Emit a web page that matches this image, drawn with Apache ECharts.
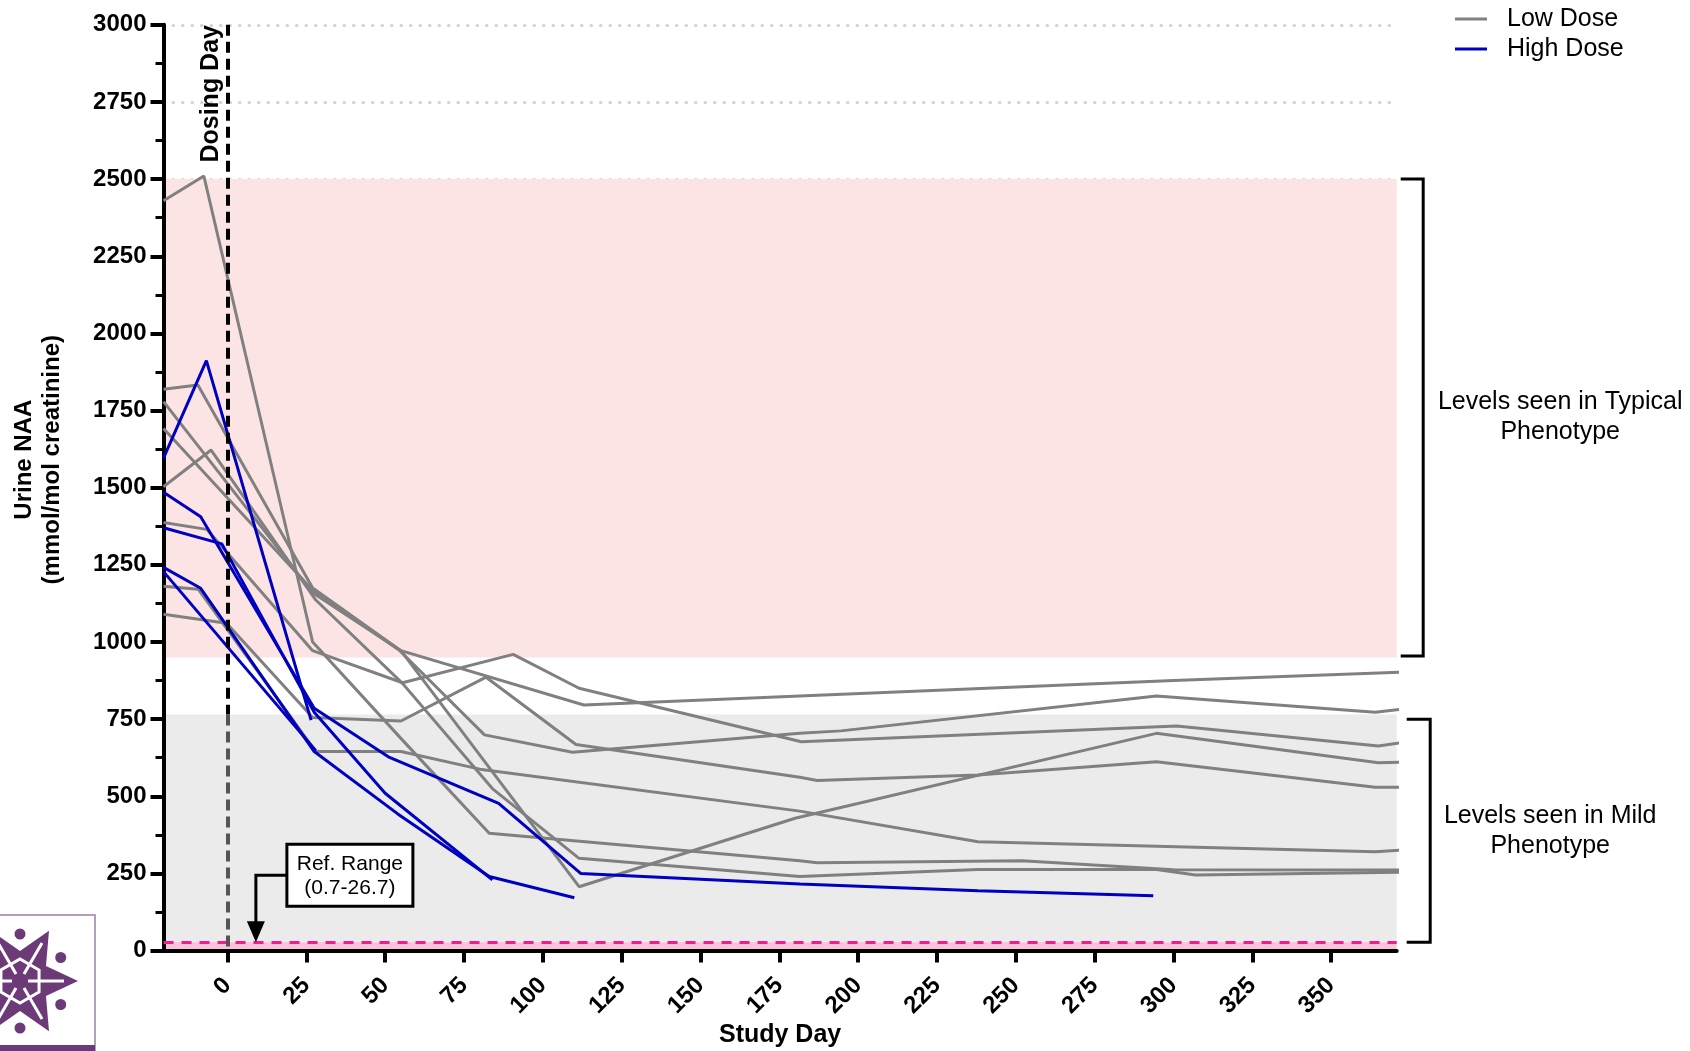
<!DOCTYPE html>
<html>
<head>
<meta charset="utf-8">
<script src="https://cdn.jsdelivr.net/npm/echarts@6/dist/echarts.min.js"></script>
<style>
html,body{margin:0;padding:0;background:#fff;}
#c{width:1690px;height:1051px;}
</style>
</head>
<body>
<div id="c"></div>
<script>
// ---------------- DATA ----------------
const xTickValues = [0, 25, 50, 75, 100, 125, 150, 175, 200, 225, 250, 275, 300, 325, 350];
const xRange = [-20.3, 370.8];
const yRange = [0, 3000];
const yInterval = 250;
const dosingDay = 0;
const typicalBand = [950, 2500];
const mildBand = [0, 765];
const refRange = [0.7, 26.7];
const typicalBracket = [955, 2500];
const mildBracket = [26.7, 750];
const refArrowDay = 9;

// Low Dose subjects: [study day, urine NAA]
const lowDose1 = [[-20.3,2430],[-7.5,2510],[27,1000],[55.5,682],[83,380],[181.5,291],[187,285],[252,291],[300,262],[375,261]];
const lowDose2 = [[-20.3,1819],[-9.4,1833],[27,1175],[55,972],[113,796],[181.5,825],[300,875],[375,903]];
const lowDose3 = [[-20.3,1779],[27,1160],[55,972],[111.5,207],[180,429],[294.6,704],[365,609],[375,611]];
const lowDose4 = [[-20.3,1692],[27,1168],[54.4,974],[81.5,699],[109.4,643],[181.5,704],[194.5,712],[294.6,825],[364,772],[375,785]];
const lowDose5 = [[-20.3,1503],[-5.2,1622],[28,1136],[55.5,866],[84,525],[111.5,299],[181.5,240],[238,263],[294.6,263],[307,245],[375,254]];
const lowDose6 = [[-20.3,1387],[-6.6,1365],[27,972],[55.5,868],[90.6,960],[111.5,850],[182,677],[301,728],[365,663],[375,678]];
const lowDose7 = [[-20.3,1181],[-9.3,1171],[28,645],[55,645],[80,588],[181.5,452],[238,353],[364,320],[375,328]];
const lowDose8 = [[-20.3,1090],[-0.3,1061],[27,755],[55,744],[82,886],[110.5,668],[181.5,562],[187,551],[238,569],[294.6,612],[364,529],[375,529]];

// High Dose subjects
const highDose1 = [[-20.3,1596],[-6.7,1912],[26.5,747]];
const highDose2 = [[-20.3,1485],[-8.5,1406],[27.5,785],[51,628],[86,477],[112,250],[181.5,216],[238,194],[293.6,178]];
const highDose3 = [[-20.3,1370],[-1.8,1318],[27.5,772],[50,510],[84,229]];
const highDose4 = [[-20.3,1242],[-8.5,1174],[27.5,645],[54,443],[83,240],[110,171]];
const highDose5 = [[-20.3,1228],[28,648]];

const lowDoseSeries = [lowDose1, lowDose2, lowDose3, lowDose4, lowDose5, lowDose6, lowDose7, lowDose8];
const highDoseSeries = [highDose1, highDose2, highDose3, highDose4, highDose5];

// ---------------- STYLE ----------------
const FONT = '"Liberation Sans", Arial, Helvetica, sans-serif';
const GRAY = '#808080';
const BLUE = '#0000c0';
const PURPLE = '#6d3a78';

const chart = echarts.init(document.getElementById('c'), null, {renderer: 'canvas'});

const series = [];
// background bands
series.push({
  type: 'line', name: 'bands', data: [], z: 0, silent: true,
  markArea: {
    silent: true,
    data: [
      [{yAxis: typicalBand[0], itemStyle: {color: '#fde4e4'}}, {yAxis: typicalBand[1]}],
      [{yAxis: mildBand[0], itemStyle: {color: '#ebebeb'}}, {yAxis: mildBand[1]}]
    ]
  }
});
// reference range band + dashed line
series.push({
  type: 'line', name: 'ref', data: [], z: 1, silent: true,
  markArea: {
    silent: true,
    data: [[{yAxis: refRange[0], itemStyle: {color: '#f9c4db'}}, {yAxis: refRange[1]}]]
  },
  markLine: {
    silent: true, symbol: ['none', 'none'], label: {show: false},
    lineStyle: {color: '#f21d86', width: 3, type: [10, 8]},
    data: [{yAxis: refRange[1]}]
  }
});
// dosing day line
series.push({
  type: 'line', name: 'dosing', data: [], z: 1, silent: true,
  markLine: {
    silent: true, symbol: ['none', 'none'], label: {show: false},
    lineStyle: {width: 4, type: [11, 6]},
    data: [
      [{coord: [dosingDay, yRange[1]], lineStyle: {color: '#000', width: 4, type: [11, 6]}}, {coord: [dosingDay, mildBand[1]]}],
      [{coord: [dosingDay, mildBand[1]], lineStyle: {color: '#555', width: 4, type: [11, 6]}}, {coord: [dosingDay, yRange[0]]}]
    ]
  }
});

lowDoseSeries.forEach(d => series.push({
  type: 'line', name: 'Low Dose', data: d, symbol: 'none', clip: true, z: 3, silent: true,
  color: GRAY, itemStyle: {color: GRAY}, lineStyle: {color: GRAY, width: 3}
}));
highDoseSeries.forEach(d => series.push({
  type: 'line', name: 'High Dose', data: d, symbol: 'none', clip: true, z: 4, silent: true,
  color: BLUE, itemStyle: {color: BLUE}, lineStyle: {color: BLUE, width: 3}
}));

chart.setOption({
  animation: false,
  backgroundColor: '#fff',
  grid: {left: 163.5, right: 293.3, top: 24.8, bottom: 100.4, containLabel: false},
  legend: {
    data: ['Low Dose', 'High Dose'],
    orient: 'vertical', left: 1455, top: 4, padding: 0,
    icon: 'rect', itemWidth: 32, itemHeight: 3, itemGap: 0,
    selectedMode: false,
    textStyle: {fontSize: 25, fontFamily: FONT, color: '#000', lineHeight: 30, padding: [0, 0, 0, 15]}
  },
  xAxis: {
    type: 'value', min: xRange[0], max: xRange[1], z: 1,
    axisLine: {show: true, onZero: false, lineStyle: {color: '#000', width: 4}},
    axisTick: {show: true, customValues: xTickValues, length: 12, lineStyle: {color: '#000', width: 4}},
    axisLabel: {customValues: xTickValues, rotate: 45, margin: 31, fontSize: 24, fontWeight: 'bold', fontFamily: FONT, color: '#000',
      formatter: v => String(v)},
    splitLine: {show: false}
  },
  yAxis: {
    type: 'value', min: yRange[0], max: yRange[1], interval: yInterval, z: 1,
    axisLine: {show: true, onZero: false, lineStyle: {color: '#000', width: 4}},
    axisTick: {show: true, length: 13, lineStyle: {color: '#000', width: 4}},
    minorTick: {show: true, splitNumber: 2, length: 8, lineStyle: {color: '#000', width: 3}},
    axisLabel: {margin: 17, fontSize: 24, fontWeight: 'bold', fontFamily: FONT, color: '#000',
      formatter: v => String(v)},
    splitLine: {show: true, lineStyle: {color: '#d2d2d2', width: 3, type: [0.5, 9], cap: 'round'}}
  },
  series: series
});

// ---------------- ANNOTATIONS ----------------
const P = (d, v) => chart.convertToPixel({xAxisIndex: 0, yAxisIndex: 0}, [d, v]);
const [x0, yTop] = P(dosingDay, yRange[1]);
const [xL, yBot] = P(xRange[0], yRange[0]);
const [xR] = P(xRange[1], yRange[0]);
const txt = (x, y, text, font, extra) => Object.assign({
  type: 'text', x: x, y: y, silent: true, z: 10,
  style: {text: text, font: font, fill: '#000', textAlign: 'center', textVerticalAlign: 'middle', align: 'center', verticalAlign: 'middle'}
}, extra || {});

const g = [];
// Dosing Day label
g.push(txt(x0 - 16, yTop + 69, 'Dosing Day', 'bold 25px ' + FONT, {rotation: Math.PI / 2}));
// Axis titles
const yMid = (yTop + yBot) / 2 - 28;
g.push(txt(24, yMid, 'Urine NAA', 'bold 24px ' + FONT, {rotation: Math.PI / 2}));
g.push(txt(52, yMid, '(mmol/mol creatinine)', 'bold 24px ' + FONT, {rotation: Math.PI / 2}));
g.push(txt((xL + xR) / 2, 1035, 'Study Day', 'bold 25px ' + FONT));

// Brackets
const tb0 = P(xRange[1], typicalBracket[1])[1], tb1 = P(xRange[1], typicalBracket[0])[1];
const mb0 = P(xRange[1], mildBracket[1])[1], mb1 = P(xRange[1], mildBracket[0])[1];
const tbx = xR + 26.5, mbx = xR + 33.5;
g.push({type: 'polyline', silent: true, z: 10, shape: {points: [[xR + 4, tb0], [tbx, tb0], [tbx, tb1], [xR + 4, tb1]]}, style: {stroke: '#000', lineWidth: 3, fill: null}});
g.push({type: 'polyline', silent: true, z: 10, shape: {points: [[xR + 10, mb0], [mbx, mb0], [mbx, mb1], [xR + 10, mb1]]}, style: {stroke: '#000', lineWidth: 3, fill: null}});
const tMid = (tb0 + tb1) / 2, mMid = (mb0 + mb1) / 2;
g.push(txt(tbx + 137, tMid - 15, 'Levels seen in Typical', '25px ' + FONT));
g.push(txt(tbx + 137, tMid + 15, 'Phenotype', '25px ' + FONT));
g.push(txt(mbx + 120, mMid - 15, 'Levels seen in Mild', '25px ' + FONT));
g.push(txt(mbx + 120, mMid + 15, 'Phenotype', '25px ' + FONT));

// Ref Range callout
const [xa, yTip] = P(refArrowDay, refRange[1]);
const bx = xa + 31, by = yTip - 98, bw = 126, bh = 62;
g.push({type: 'polyline', silent: true, z: 10, shape: {points: [[bx, yTip - 67], [xa, yTip - 67], [xa, yTip - 20]]}, style: {stroke: '#000', lineWidth: 3, fill: null}});
g.push({type: 'polygon', silent: true, z: 10, shape: {points: [[xa - 9, yTip - 21], [xa + 9, yTip - 21], [xa, yTip]]}, style: {fill: '#000'}});
g.push({type: 'rect', silent: true, z: 10, shape: {x: bx, y: by, width: bw, height: bh}, style: {fill: '#fff', stroke: '#000', lineWidth: 3}});
g.push(txt(bx + bw / 2, by + 20, 'Ref. Range', '21px ' + FONT));
g.push(txt(bx + bw / 2, by + 44, '(0.7-26.7)', '21px ' + FONT));

// Logo (bottom-left)
g.push({type: 'rect', silent: true, z: 10, shape: {x: -2, y: 915, width: 97, height: 140}, style: {fill: '#fff', stroke: '#9c80aa', lineWidth: 1.5}});
g.push({type: 'rect', silent: true, z: 11, shape: {x: 0, y: 1045, width: 95, height: 6}, style: {fill: PURPLE}});
const cx = 20, cy = 981;
const starPts = [];
for (let k = 0; k < 12; k++) {
  const a = k * Math.PI / 6;
  const r = (k % 2 === 0) ? 58 : 30;
  starPts.push([cx + r * Math.cos(a), cy + r * Math.sin(a)]);
}
g.push({type: 'polygon', silent: true, z: 11, shape: {points: starPts}, style: {fill: PURPLE}});
for (let k = 0; k < 6; k++) {
  const a = k * Math.PI / 3;
  g.push({type: 'line', silent: true, z: 12, shape: {x1: cx + 8 * Math.cos(a), y1: cy + 8 * Math.sin(a), x2: cx + 44 * Math.cos(a), y2: cy + 44 * Math.sin(a)}, style: {stroke: '#fff', lineWidth: 3}});
  const b = a + Math.PI / 6;
  g.push({type: 'circle', silent: true, z: 11, shape: {cx: cx + 47 * Math.cos(b), cy: cy + 47 * Math.sin(b), r: 5.5}, style: {fill: PURPLE}});
}
const hexPts = [];
for (let k = 0; k < 6; k++) { const a = k * Math.PI / 3 + Math.PI / 6; hexPts.push([cx + 22 * Math.cos(a), cy + 22 * Math.sin(a)]); }
g.push({type: 'polygon', silent: true, z: 12, shape: {points: hexPts}, style: {fill: null, stroke: '#fff', lineWidth: 3}});

chart.setOption({graphic: {elements: g}});
</script>
</body>
</html>
